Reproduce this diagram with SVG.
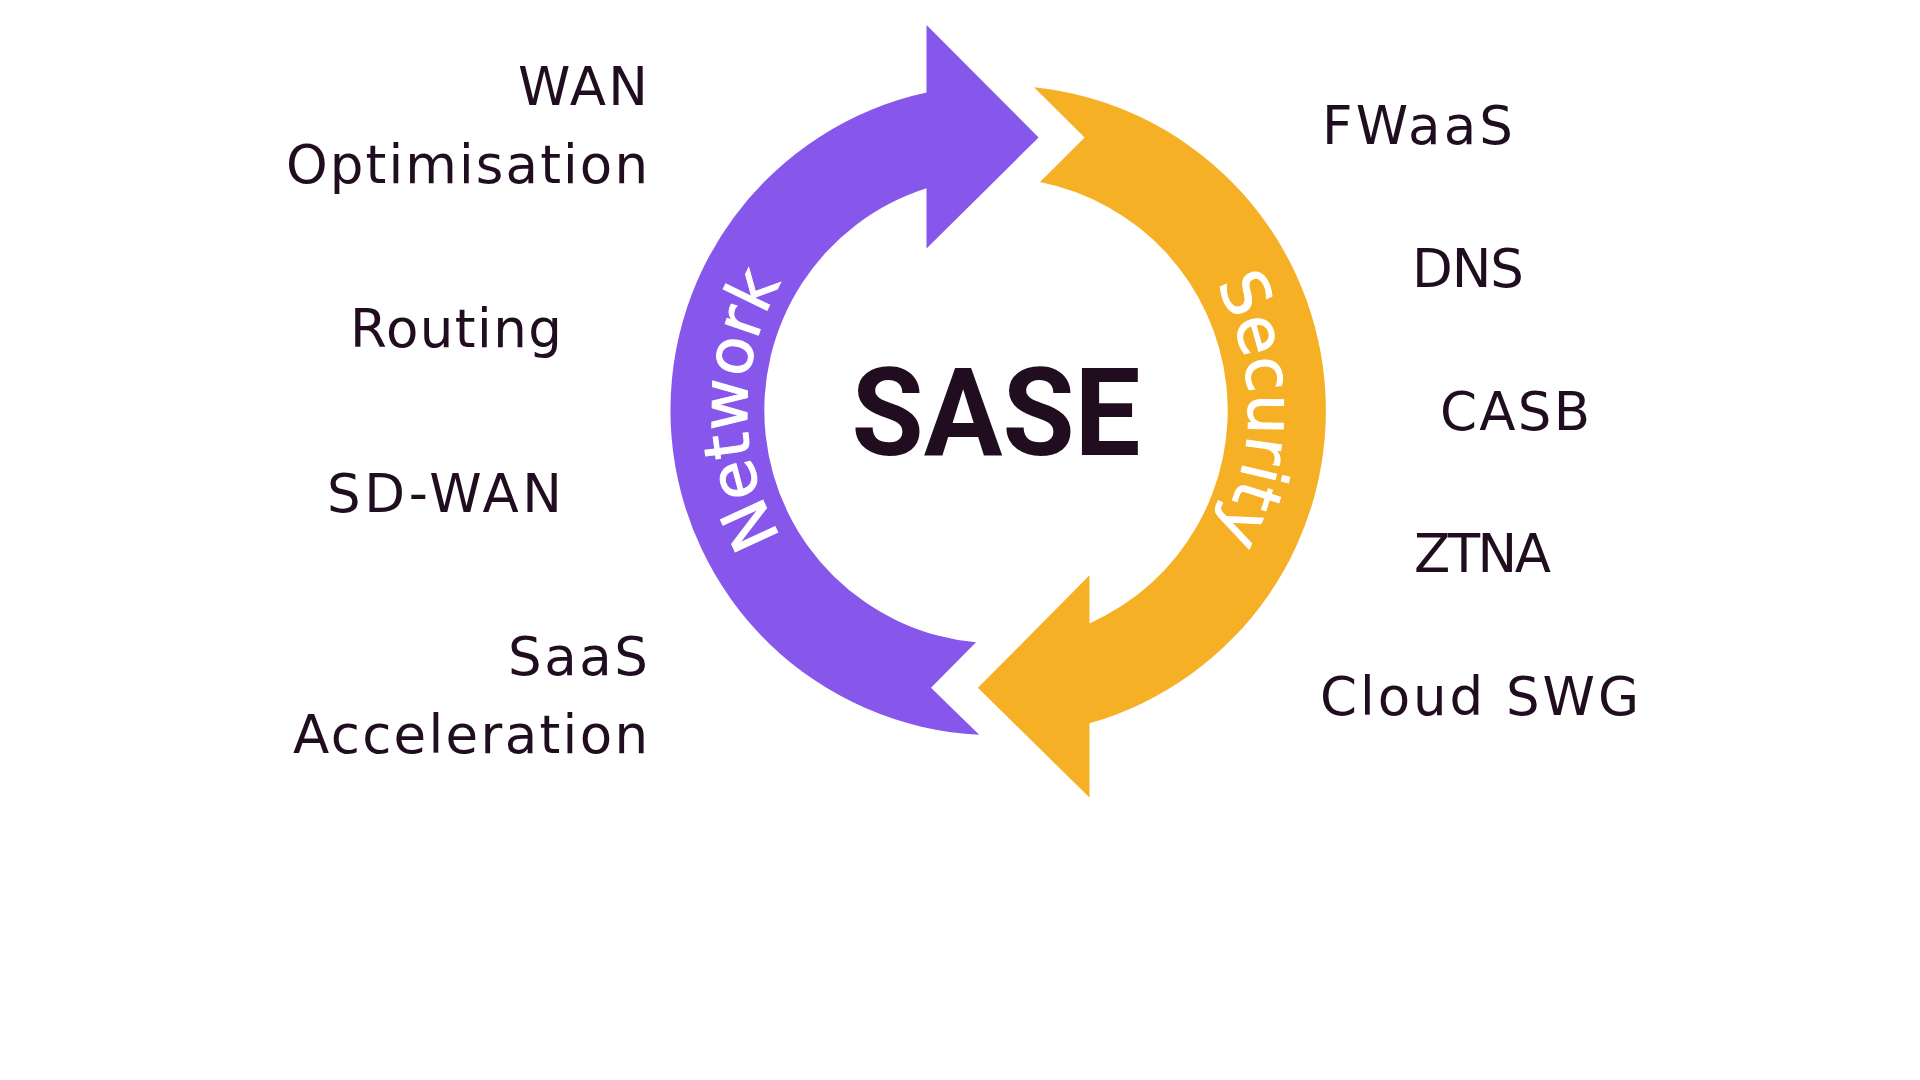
<svg xmlns="http://www.w3.org/2000/svg" width="1920" height="1080" viewBox="0 0 1920 1080">
  <style>
    .lbl { font-family: "DejaVu Sans", "Liberation Sans", sans-serif; font-size: 53px; fill: #200E20; }
    .end { text-anchor: end; }
    .ring-txt { font-family: "DejaVu Sans", "Liberation Sans", sans-serif; font-size: 64px; fill: #FFFFFF; stroke: #FFFFFF; stroke-width: 1; }
    .title { font-family: Roboto, "Liberation Sans", sans-serif; font-weight: 700; font-size: 123px; fill: #200E20; text-anchor: middle; }
    .net { fill: #8757EC; }
    .sec { fill: #F6B026; }
  </style>
  <defs>
    <path id="netPath" d="M 1040.5 662.1 A 255 255 0 1 1 1040.5 157.9"/>
    <path id="secPath" d="M 950.9 153.9 A 259 259 0 1 1 950.9 666.1"/>
  </defs>
  <rect width="1920" height="1080" fill="#FFFFFF"/>

  <g id="connectors">
    <g id="network-arrow">
      <path class="net" d="M 926.5 92.6 L 926.5 25 L 1038.6 137.5 L 926.5 248.4 L 926.5 188.3 A 233 233 0 0 0 976 642.3 L 931 687.8 L 979.2 734.8 A 325 325 0 0 1 926.5 92.6 Z"/>
      <text class="ring-txt"><textPath href="#netPath" startOffset="50%" text-anchor="middle">Network</textPath></text>
    </g>
    <g id="security-arrow">
      <path class="sec" d="M 1034 87.3 L 1084.6 137.5 L 1040 182 A 233 233 0 0 1 1089.5 623.4 L 1089.5 575.3 L 977.9 687.8 L 1089.5 797.6 L 1089.5 723.3 A 325 325 0 0 0 1034 87.3 Z"/>
      <text class="ring-txt"><textPath href="#secPath" startOffset="50%" text-anchor="middle">Security</textPath></text>
    </g>
  </g>

  <g id="sase">
    <text class="title" x="996" y="455" textLength="289" lengthAdjust="spacingAndGlyphs">SASE</text>
  </g>

  <g id="network-items">
    <g id="wan-optimisation">
      <text class="lbl end" x="648" y="105" textLength="130">WAN</text>
      <text class="lbl end" x="648" y="183" textLength="362">Optimisation</text>
    </g>
    <g id="routing"><text class="lbl end" x="562" y="347" textLength="212">Routing</text></g>
    <g id="sd-wan"><text class="lbl end" x="562" y="512" textLength="235">SD-WAN</text></g>
    <g id="saas-acceleration">
      <text class="lbl end" x="648" y="675" textLength="140">SaaS</text>
      <text class="lbl end" x="648" y="753" textLength="355">Acceleration</text>
    </g>
  </g>

  <g id="security-items">
    <g id="fwaas"><text class="lbl" x="1322" y="144" textLength="191">FWaaS</text></g>
    <g id="dns"><text class="lbl" x="1412" y="287" textLength="112">DNS</text></g>
    <g id="casb"><text class="lbl" x="1440" y="430" textLength="150">CASB</text></g>
    <g id="ztna"><text class="lbl" x="1414" y="572" textLength="137">ZTNA</text></g>
    <g id="cloud-swg"><text class="lbl" x="1320" y="715" textLength="319">Cloud SWG</text></g>
  </g>
</svg>
